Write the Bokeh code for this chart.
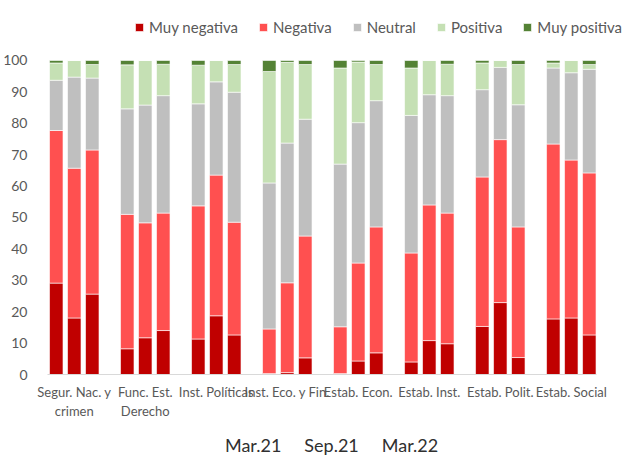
from bokeh.plotting import figure
from bokeh.models import ColumnDataSource, FixedTicker, Range1d
from bokeh.embed import file_html
from bokeh.resources import INLINE

categories = ["Segur. Nac. y\ncrimen", "Func. Est.\nDerecho", "Inst. Políticas", "Inst. Eco. y Fin.",
              "Estab. Econ.", "Estab. Inst.", "Estab. Polit.", "Estab. Social"]
periods = ["Mar.21", "Sep.21", "Mar.22"]
series = ["Muy negativa", "Negativa", "Neutral", "Positiva", "Muy positiva"]
colors = ["#C00000", "#FF5050", "#BFBFBF", "#C5E0B4", "#548235"]

# values per group: Mar.21, Sep.21, Mar.22
muy_negativa = [29.1, 18.0, 25.6, 8.2, 11.7, 14.0, 11.3, 18.7, 12.6, 0.3, 0.6, 5.3,
                0.3, 4.3, 6.9, 4.0, 10.8, 9.8, 15.3, 22.9, 5.4, 17.7, 18.0, 12.6]
negativa = [48.6, 47.7, 45.9, 42.8, 36.6, 37.4, 42.4, 44.8, 35.9, 14.2, 28.6, 38.8,
            14.9, 31.2, 40.1, 34.7, 43.2, 41.6, 47.6, 51.9, 41.6, 55.7, 50.3, 51.6]
neutral = [16.0, 29.0, 22.9, 33.6, 37.5, 37.4, 32.5, 29.7, 41.4, 46.5, 44.5, 37.2,
           51.8, 44.7, 40.2, 43.8, 35.1, 37.4, 27.8, 23.0, 38.9, 24.2, 27.8, 33.0]
positiva = [5.5, 5.3, 4.3, 14.0, 14.2, 10.0, 12.3, 6.8, 8.8, 35.5, 25.7, 17.4,
            30.6, 19.3, 11.5, 15.1, 10.9, 10.0, 8.5, 2.2, 12.8, 1.6, 3.9, 1.5]
muy_positiva = [0.8, 0.0, 1.3, 1.4, 0.0, 1.2, 1.5, 0.0, 1.3, 3.5, 0.6, 1.3,
                2.4, 0.5, 1.3, 2.4, 0.0, 1.2, 0.8, 0.0, 1.3, 0.8, 0.0, 1.3]

n_per = len(periods)
xs = [g + (k - 1) * 0.2535 for g in range(len(categories)) for k in range(n_per)]
src = ColumnDataSource(dict(x=xs, s0=muy_negativa, s1=negativa, s2=neutral,
                            s3=positiva, s4=muy_positiva))

p = figure(width=629, height=458, output_backend="svg", toolbar_location=None,
           x_range=Range1d(-0.377, 7.82), y_range=Range1d(0, 119.1),
           min_border_left=47, min_border_right=0, min_border_top=0, min_border_bottom=83)
p.outline_line_color = None
p.xgrid.visible = False
p.ygrid.visible = False

p.vbar_stack(["s0", "s1", "s2", "s3", "s4"], x="x", width=0.19, color=colors,
             line_color="white", line_width=0.6, source=src, legend_label=series)

font = "Lato"
grey = "#595959"
p.yaxis.ticker = FixedTicker(ticks=list(range(0, 101, 10)))
p.yaxis.axis_line_color = None
p.yaxis.major_tick_line_color = None
p.yaxis.minor_tick_line_color = None
p.yaxis.major_label_text_font = font
p.yaxis.major_label_text_font_size = "14px"
p.yaxis.major_label_text_color = grey
p.yaxis.major_label_standoff = 14

p.xaxis.ticker = FixedTicker(ticks=list(range(len(categories))))
p.xaxis.major_label_overrides = {i: c for i, c in enumerate(categories)}
p.xaxis.bounds = (-0.377, 7.356)
p.xaxis.axis_line_color = "#D9D9D9"
p.xaxis.major_tick_line_color = None
p.xaxis.minor_tick_line_color = None
p.xaxis.major_tick_in = 0
p.xaxis.major_tick_out = 0
p.xaxis.major_label_text_font = font
p.xaxis.major_label_text_font_size = "13px"
p.xaxis.major_label_text_color = grey
p.xaxis.major_label_standoff = 9
p.xaxis.axis_label = ("\u00a0" * 5).join(periods) + "\u00a0" * 3
p.xaxis.axis_label_text_font = font
p.xaxis.axis_label_text_font_size = "18px"
p.xaxis.axis_label_text_font_style = "normal"
p.xaxis.axis_label_text_color = "#303030"
p.xaxis.axis_label_standoff = 12

leg = p.legend[0]
leg.orientation = "horizontal"
leg.location = (87, 338)
leg.border_line_color = None
leg.background_fill_alpha = 0
leg.padding = 0
leg.margin = 0
leg.spacing = 20
leg.glyph_width = 10
leg.glyph_height = 10
leg.label_standoff = 5
leg.label_text_font = font
leg.label_text_font_size = "15px"
leg.label_text_color = grey

open("out.html", "w").write(file_html(p, INLINE))
